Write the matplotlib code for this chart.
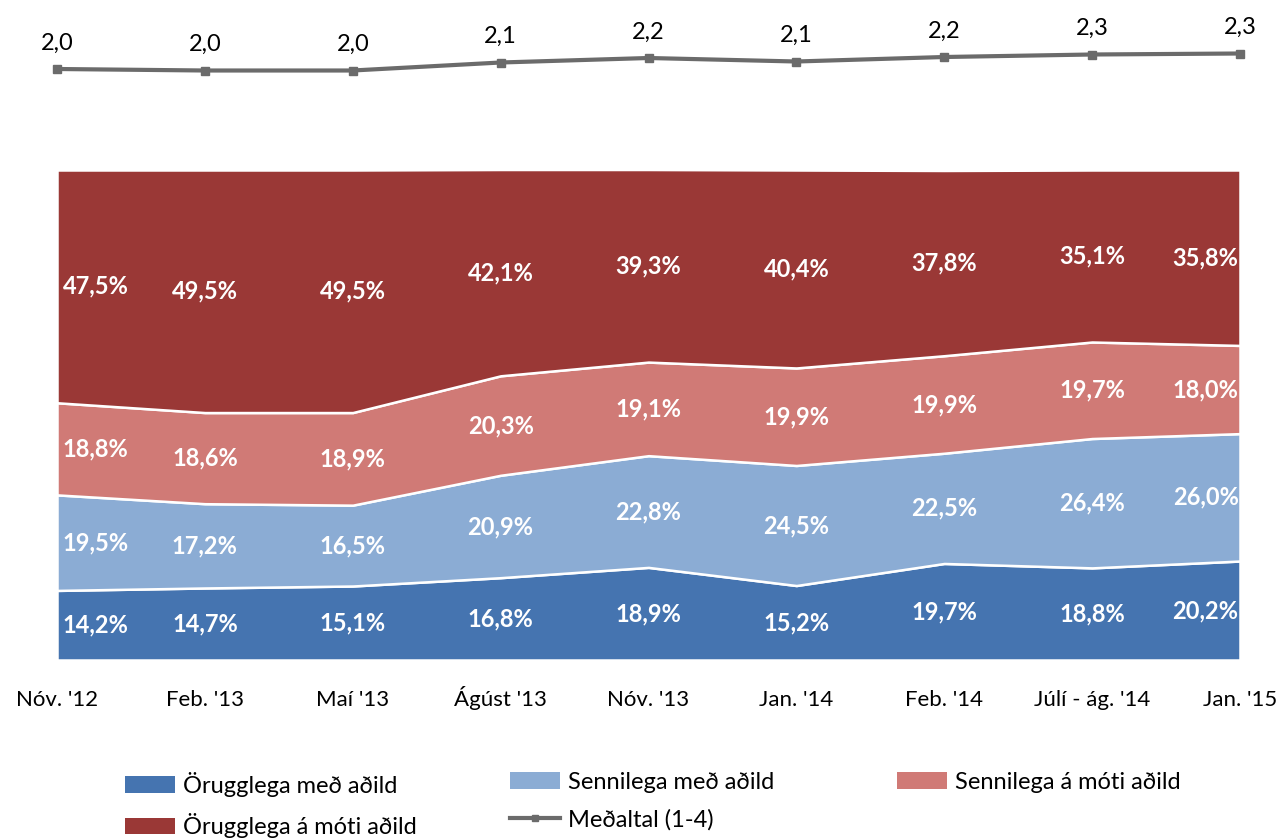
import matplotlib
matplotlib.use("Agg")
import matplotlib.pyplot as plt
from matplotlib.lines import Line2D
from matplotlib.patches import Patch

categories = ["Nóv. '12", "Feb. '13", "Maí '13", "Ágúst '13", "Nóv. '13",
              "Jan. '14", "Feb. '14", "Júlí - ág. '14", "Jan. '15"]
orugglega_med = [14.2, 14.7, 15.1, 16.8, 18.9, 15.2, 19.7, 18.8, 20.2]
sennilega_med = [19.5, 17.2, 16.5, 20.9, 22.8, 24.5, 22.5, 26.4, 26.0]
sennilega_moti = [18.8, 18.6, 18.9, 20.3, 19.1, 19.9, 19.9, 19.7, 18.0]
orugglega_moti = [47.5, 49.5, 49.5, 42.1, 39.3, 40.4, 37.8, 35.1, 35.8]
medaltal = [2.00, 1.97, 1.97, 2.13, 2.22, 2.15, 2.24, 2.29, 2.31]
medaltal_labels = ["2,0", "2,0", "2,0", "2,1", "2,2", "2,1", "2,2", "2,3", "2,3"]

series_names = ["Örugglega með aðild", "Sennilega með aðild",
                "Sennilega á móti aðild", "Örugglega á móti aðild"]
colors = ["#4574B0", "#8BACD4", "#D07A76", "#9A3836"]
line_color = "#6B6B6B"

plt.rcParams['font.family'] = ['Lato', 'DejaVu Sans']

W, H = 1288, 840
fig = plt.figure(figsize=(W / 100, H / 100), dpi=100)

x = list(range(len(categories)))
x0, x1 = 57, 1240

# main stacked area
ax = fig.add_axes([x0 / W, (H - 660) / H, (x1 - x0) / W, 490 / H])
data = [orugglega_med, sennilega_med, sennilega_moti, orugglega_moti]
ax.stackplot(x, *data, colors=colors, edgecolor="white", linewidth=1.8)
ax.set_xlim(0, len(categories) - 1)
ax.set_ylim(0, 100)
ax.margins(0)
for s in ax.spines.values():
    s.set_visible(False)
ax.set_yticks([])
ax.set_xticks(x)
ax.set_xticklabels(categories, fontsize=16, color="black")
ax.tick_params(axis="x", length=0, pad=33)
for t in ax.get_xticklabels():
    t.set_verticalalignment("baseline")

n = len(categories)
lab_fs = 17
for i in range(n):
    base = 0
    for vals in data:
        v = vals[i]
        yc = base + v / 2
        base += v
        txt = f"{v:.1f}%".replace(".", ",")
        if i == 0:
            ax.annotate(txt, (i, yc), xytext=(4, 0), textcoords="offset points",
                        ha="left", va="center", color="white", fontsize=lab_fs,
                        fontweight="bold")
        elif i == n - 1:
            ax.annotate(txt, (i, yc), xytext=(-1, 0), textcoords="offset points",
                        ha="right", va="center", color="white", fontsize=lab_fs,
                        fontweight="bold")
        else:
            ax.text(i, yc, txt, ha="center", va="center", color="white",
                    fontsize=lab_fs, fontweight="bold")

# top line chart
ax2 = fig.add_axes([x0 / W, (H - 120) / H, (x1 - x0) / W, 100 / H])
ax2.plot(x, medaltal, color=line_color, linewidth=3, marker="s", markersize=6,
         clip_on=False)
ax2.set_xlim(0, n - 1)
ax2.set_ylim(0.98, 2.98)
ax2.axis("off")
for i, (v, lab) in enumerate(zip(medaltal, medaltal_labels)):
    ax2.annotate(lab, (i, v), xytext=(0, 11), textcoords="offset points",
                 ha="center", va="bottom", fontsize=17, color="black")

# legend (three columns placed manually)
handles = [Patch(facecolor=c, edgecolor="none") for c in colors]
line_handle = Line2D([], [], color=line_color, linewidth=3, marker="s", markersize=5)
legend_cols = [
    ([handles[0], handles[3]], [series_names[0], series_names[3]], 125),
    ([handles[1], line_handle], [series_names[1], "Meðaltal (1-4)"], 510),
    ([handles[2]], [series_names[2]], 897),
]
for hs, ls, px in legend_cols:
    fig.legend(hs, ls, loc="upper left", bbox_to_anchor=(px / W, (H - 772) / H),
               frameon=False, fontsize=17, handlelength=2.1, handleheight=0.7,
               handletextpad=0.35, labelspacing=0.68, borderpad=0, borderaxespad=0)

fig.savefig("out.png", dpi=100)
